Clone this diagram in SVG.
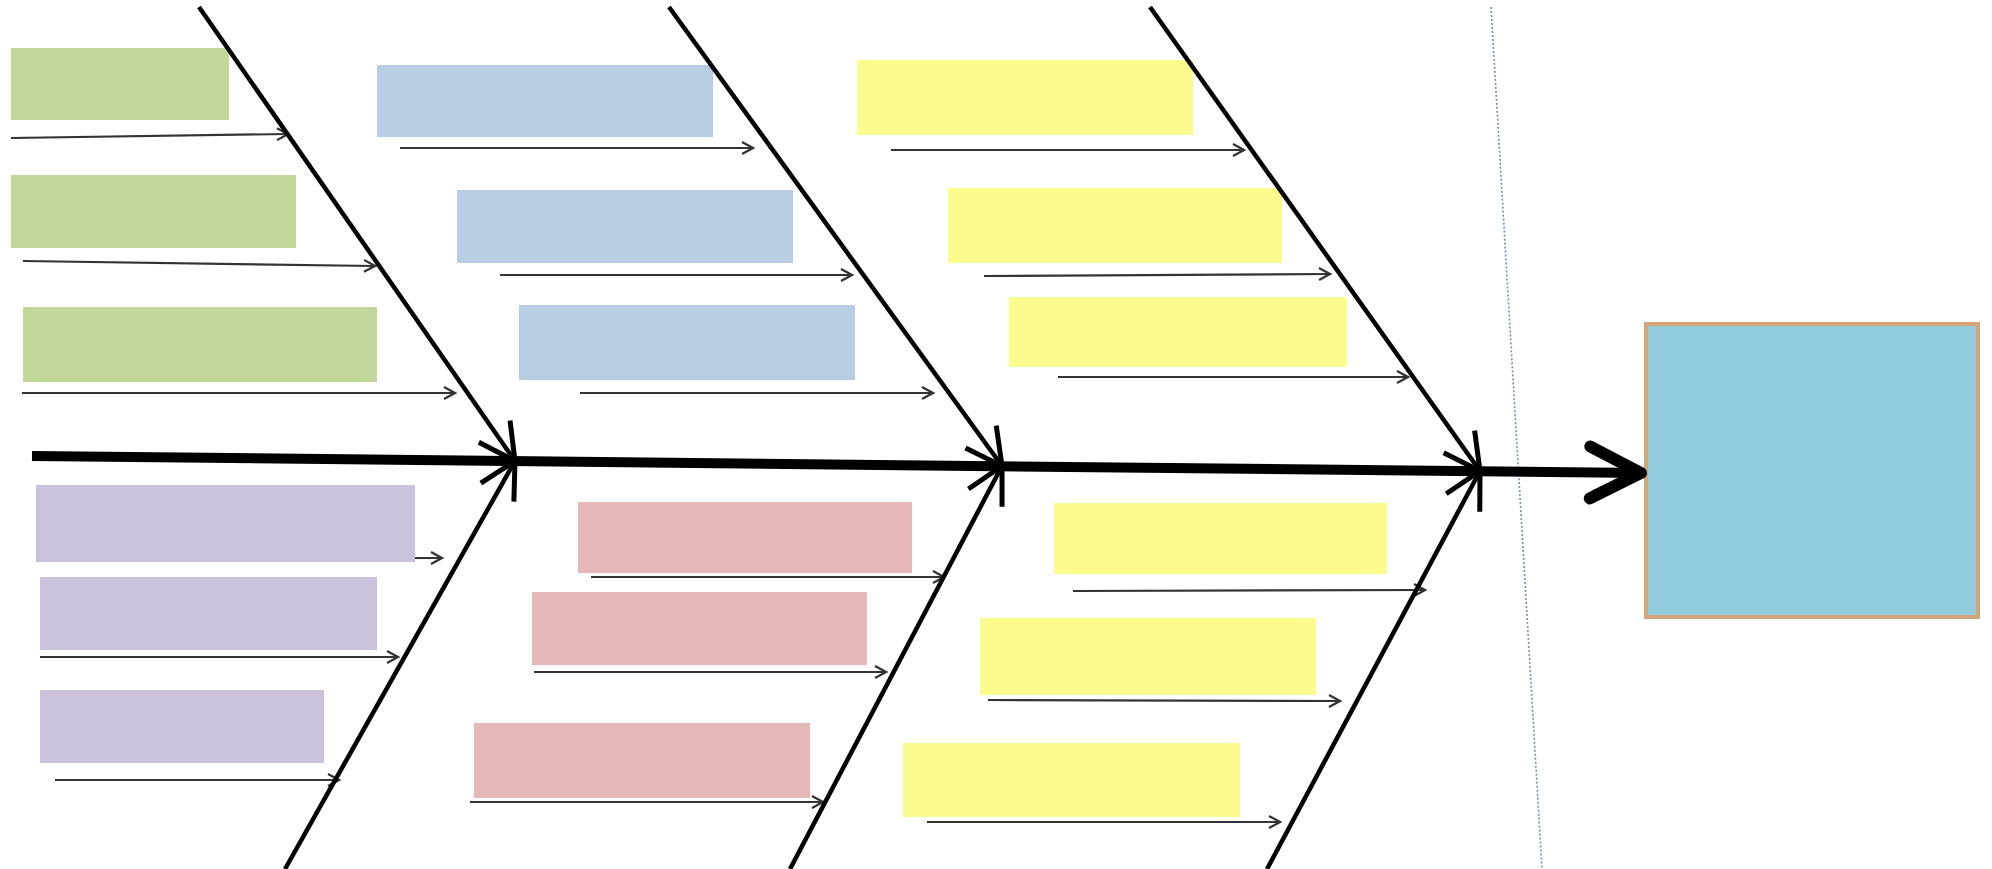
<svg xmlns="http://www.w3.org/2000/svg" width="1992" height="869" viewBox="0 0 1992 869">
  <style>
    .green { fill: #C4D79B; }
    .blue { fill: #B8CCE4; }
    .yellow { fill: #FCFC8E; }
    .purple { fill: #CCC1DA; }
    .pink { fill: #E6B9B8; }
    .sub { stroke: #333; stroke-width: 2.2; fill: none; marker-end: url(#subHead); }
    .bone { stroke: #000; stroke-width: 4.5; fill: none; marker-end: url(#boneHead); }
    .spine { stroke: #000; stroke-width: 10; fill: none; marker-end: url(#spineHead); }
    .divider { stroke: #6F8FB0; stroke-width: 1.6; stroke-dasharray: 2 2; fill: none; }
    .effect { fill: #92CBDC; stroke: #D2A679; stroke-width: 4; }
  </style>
  <defs>
    <marker id="subHead" markerUnits="userSpaceOnUse" viewBox="-14 -8 16 16" refX="0" refY="0" markerWidth="16" markerHeight="16" orient="auto">
      <path d="M-11,-6 L0,0 L-11,6" fill="none" stroke="#333" stroke-width="2.2"/>
    </marker>
    <marker id="boneHead" markerUnits="userSpaceOnUse" viewBox="-42 -24 46 48" refX="0" refY="0" markerWidth="46" markerHeight="48" orient="auto">
      <path d="M-36,-19 L0,0 L-36,19" fill="none" stroke="#000" stroke-width="5"/>
    </marker>
    <marker id="spineHead" markerUnits="userSpaceOnUse" viewBox="-64 -36 72 72" refX="0" refY="0" markerWidth="72" markerHeight="72" orient="auto">
      <path d="M-53,-26 L-2,0 L-53,26" fill="none" stroke="#000" stroke-width="12" stroke-linecap="round" stroke-linejoin="round"/>
    </marker>
  </defs>
  <rect width="1992" height="869" fill="#fff"/>

  <line class="divider" x1="1491" y1="7" x2="1542" y2="869"/>

  <g id="branch-arrows">
    <line class="sub" x1="11" y1="138" x2="288" y2="134"/>
    <line class="sub" x1="23" y1="261" x2="375" y2="266"/>
    <line class="sub" x1="22" y1="393" x2="455" y2="393"/>
    <line class="sub" x1="400" y1="148" x2="753" y2="148"/>
    <line class="sub" x1="500" y1="275" x2="852" y2="275"/>
    <line class="sub" x1="580" y1="393" x2="933" y2="393"/>
    <line class="sub" x1="891" y1="150" x2="1244" y2="150"/>
    <line class="sub" x1="984" y1="276" x2="1330" y2="274"/>
    <line class="sub" x1="1058" y1="377" x2="1408" y2="377"/>
    <line class="sub" x1="40" y1="559" x2="442" y2="558"/>
    <line class="sub" x1="40" y1="657" x2="398" y2="657"/>
    <line class="sub" x1="55" y1="780" x2="339" y2="780"/>
    <line class="sub" x1="591" y1="577" x2="944" y2="577"/>
    <line class="sub" x1="534" y1="672" x2="886" y2="672"/>
    <line class="sub" x1="470" y1="802" x2="823" y2="802"/>
    <line class="sub" x1="1073" y1="591" x2="1425" y2="590"/>
    <line class="sub" x1="988" y1="700" x2="1340" y2="701"/>
    <line class="sub" x1="927" y1="822" x2="1280" y2="822"/>
  </g>

  <g id="cause-green-1"><rect class="green" x="11" y="48" width="218" height="72"/></g>
  <g id="cause-green-2"><rect class="green" x="11" y="175" width="285" height="73"/></g>
  <g id="cause-green-3"><rect class="green" x="23" y="307" width="354" height="75"/></g>
  <g id="cause-blue-1"><rect class="blue" x="377" y="65" width="336" height="72"/></g>
  <g id="cause-blue-2"><rect class="blue" x="457" y="190" width="336" height="73"/></g>
  <g id="cause-blue-3"><rect class="blue" x="519" y="305" width="336" height="75"/></g>
  <g id="cause-yellow-1"><rect class="yellow" x="857" y="60" width="336" height="75"/></g>
  <g id="cause-yellow-2"><rect class="yellow" x="948" y="188" width="334" height="75"/></g>
  <g id="cause-yellow-3"><rect class="yellow" x="1009" y="297" width="338" height="70"/></g>
  <g id="cause-purple-1"><rect class="purple" x="36" y="485" width="379" height="77"/></g>
  <g id="cause-purple-2"><rect class="purple" x="40" y="577" width="337" height="73"/></g>
  <g id="cause-purple-3"><rect class="purple" x="40" y="690" width="284" height="73"/></g>
  <g id="cause-pink-1"><rect class="pink" x="578" y="502" width="334" height="71"/></g>
  <g id="cause-pink-2"><rect class="pink" x="532" y="592" width="335" height="73"/></g>
  <g id="cause-pink-3"><rect class="pink" x="474" y="723" width="336" height="75"/></g>
  <g id="cause-yellow-4"><rect class="yellow" x="1054" y="503" width="333" height="71"/></g>
  <g id="cause-yellow-5"><rect class="yellow" x="980" y="618" width="336" height="77"/></g>
  <g id="cause-yellow-6"><rect class="yellow" x="903" y="743" width="337" height="74"/></g>

  <g id="effect"><rect class="effect" x="1646" y="324" width="332" height="293"/></g>

  <g id="connectors">
    <line class="spine" x1="32" y1="456" x2="1643" y2="473"/>
    <line class="bone" x1="199" y1="7" x2="515" y2="461"/>
    <line class="bone" x1="669" y1="7" x2="1002" y2="466"/>
    <line class="bone" x1="1150" y1="7" x2="1480" y2="471"/>
    <line class="bone" x1="285" y1="869" x2="515" y2="461"/>
    <line class="bone" x1="790" y1="869" x2="1002" y2="466"/>
    <line class="bone" x1="1267" y1="869" x2="1480" y2="471"/>
  </g>
</svg>
